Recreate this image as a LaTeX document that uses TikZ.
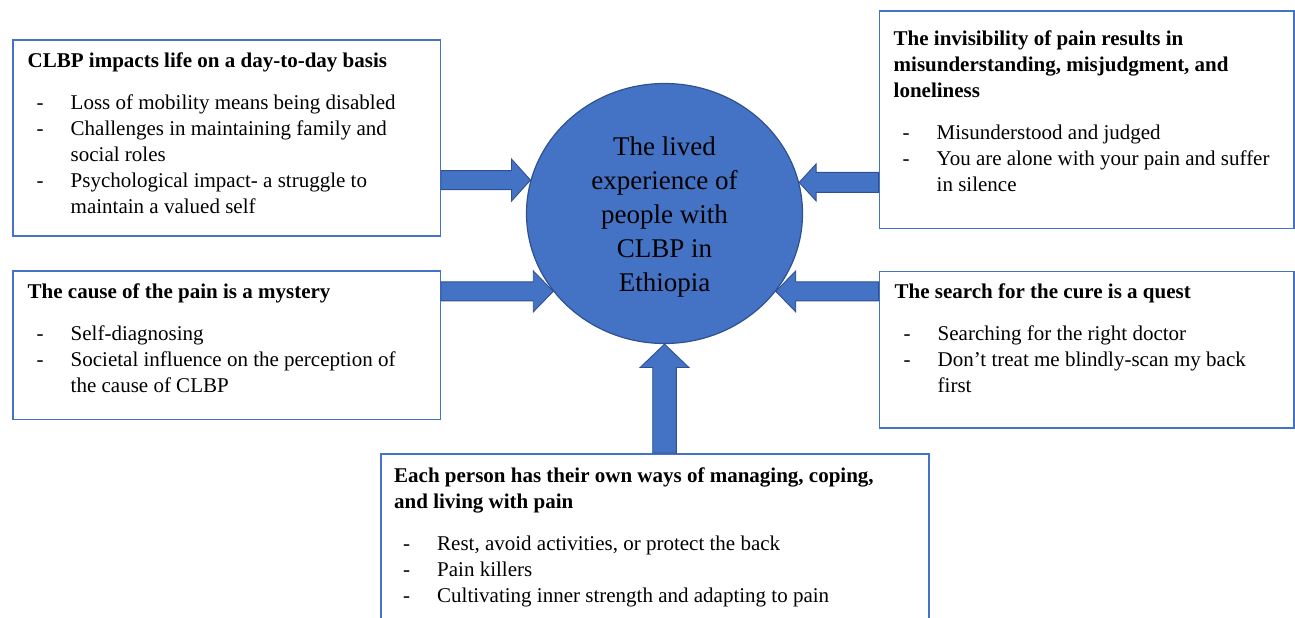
\documentclass[tikz,border=0pt]{standalone}
\usepackage{fontspec}
\setmainfont{Liberation Serif}
\usetikzlibrary{shapes.geometric,calc}
\definecolor{accent}{HTML}{4472C4}
\definecolor{accentdark}{HTML}{2F528F}
\newcommand\itm{\makebox[43pt][l]{\hspace{9pt}-}}
\newcommand\itmx{\makebox[43pt]{}}
% #1 start, #2 tip, #3 half shaft, #4 half head, #5 head length
\newcommand\blockarrow[5]{%
  \coordinate (ba-s) at (#1);
  \coordinate (ba-t) at (#2);
  \coordinate (ba-h) at ($(ba-t)!#5!(ba-s)$);
  \draw[blockarrow] ($(ba-s)!#3!90:(ba-t)$) -- ($(ba-h)!#3!90:(ba-t)$) -- ($(ba-h)!#4!90:(ba-t)$) -- (ba-t)
    -- ($(ba-h)!#4!-90:(ba-t)$) -- ($(ba-h)!#3!-90:(ba-t)$) -- ($(ba-s)!#3!-90:(ba-t)$) -- cycle;}
\begin{document}
\begin{tikzpicture}[x=1pt,y=-1pt,
  theme/.style={draw=accent,line width=1.5pt,anchor=north west,inner sep=0pt},
  txt/.style={align=left,inner sep=0pt,anchor=north west,font=\fontsize{21}{26}\selectfont},
  core/.style={ellipse,fill=accent,draw=accentdark,line width=1.2pt,minimum width=276pt,minimum height=260pt,inner sep=0pt},
  blockarrow/.style={fill=accent,draw=accentdark,line width=0.9pt}]
\clip (0,0) rectangle (1295,618);
\node[core] (core) at (664.5,213.5) {};
\node[align=center,inner sep=0pt,font=\fontsize{27}{34}\selectfont] (core-txt) at ([yshift=-4pt]core.center) {The lived\\experience of\\people with\\CLBP in\\Ethiopia};
\node[theme,minimum width=427.5pt,minimum height=195.5pt] (daily) at (12,39.5) {};
\node[theme,minimum width=427.5pt,minimum height=148.5pt] (cause) at (12,270) {};
\node[theme,minimum width=414.5pt,minimum height=217pt] (invisible) at (878.5,10.5) {};
\node[theme,minimum width=414.5pt,minimum height=156.5pt] (search) at (878.5,270.5) {};
\node[theme,minimum width=548pt,minimum height=250pt] (coping) at (380,453) {};
\node[txt] (daily-txt) at ([shift={(15.5,13.5)}]daily.north west) {\textbf{CLBP impacts life on a day-to-day basis}\\[16pt]
  \itm Loss of mobility means being disabled\\
  \itm Challenges in maintaining family and\\
  \itmx social roles\\
  \itm Psychological impact- a struggle to\\
  \itmx maintain a valued self};
\node[txt] (cause-txt) at ([shift={(15.5,13.7)}]cause.north west) {\textbf{The cause of the pain is a mystery}\\[16pt]
  \itm Self-diagnosing\\
  \itm Societal influence on the perception of\\
  \itmx the cause of CLBP};
\node[txt] (invisible-txt) at ([shift={(15,19.6)}]invisible.north west) {\textbf{The invisibility of pain results in}\\
  \textbf{misunderstanding, misjudgment, and}\\
  \textbf{loneliness}\\[16pt]
  \itm Misunderstood and judged\\
  \itm You are alone with your pain and suffer\\
  \itmx in silence};
\node[txt] (search-txt) at ([shift={(16,13.3)}]search.north west) {\textbf{The search for the cure is a quest}\\[16pt]
  \itm Searching for the right doctor\\
  \itm Don’t treat me blindly-scan my back\\
  \itmx first};
\node[txt] (coping-txt) at ([shift={(14,14.7)}]coping.north west) {\textbf{Each person has their own ways of managing, coping,}\\
  \textbf{and living with pain}\\[16pt]
  \itm Rest, avoid activities, or protect the back\\
  \itm Pain killers\\
  \itm Cultivating inner strength and adapting to pain};
\blockarrow{daily.east |- core.166}{core.166}{9.5pt}{21pt}{19pt}
\blockarrow{cause.east |- core.215}{core.215}{9.5pt}{20.5pt}{20pt}
\blockarrow{invisible.west |- core.13}{core.13}{10pt}{18.5pt}{17pt}
\blockarrow{search.west |- core.325}{core.325}{9.5pt}{20.5pt}{20pt}
\blockarrow{core.south |- coping.north}{core.south}{11.8pt}{24.4pt}{23.4pt}
\end{tikzpicture}
\end{document}
